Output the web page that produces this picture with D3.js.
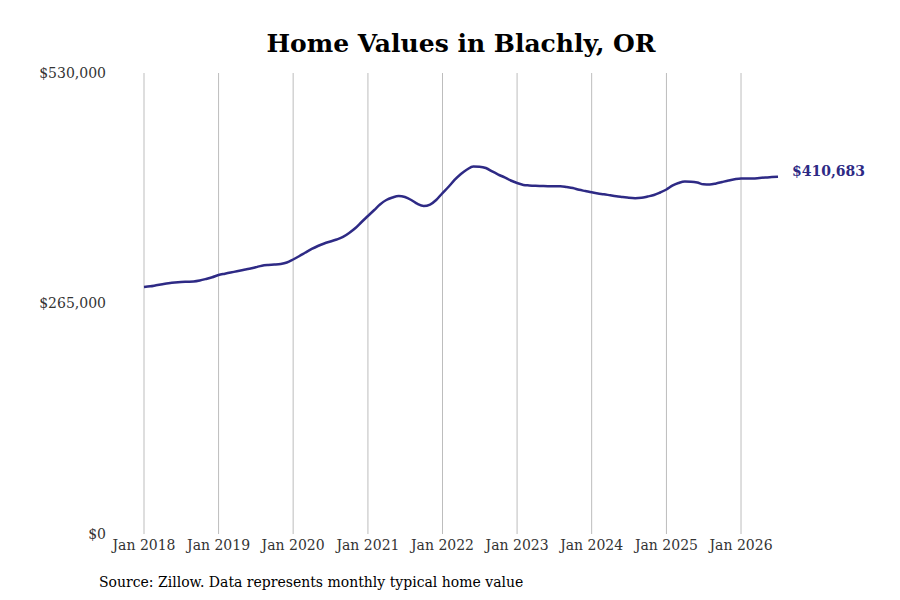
<!DOCTYPE html>
<html>
<head>
<meta charset="utf-8">
<script src="https://cdn.jsdelivr.net/npm/d3@7"></script>
<style>
  body { margin: 0; background: #fff; }
  svg { display: block; font-family: "DejaVu Serif", serif; }
</style>
</head>
<body>
<svg id="chart" width="900" height="600"></svg>
<script>
// monthly typical home value, Jan 2018 - Jul 2026 (thousands of dollars)
let values2018 = [ 284.0, 284.8, 285.9, 287.1, 288.2, 289.1, 289.7, 290.0, 290.3, 291.4, 293.2, 295.2 ];
let values2019 = [ 297.8, 299.3, 300.6, 302.1, 303.5, 304.9, 306.6, 308.5, 309.3, 309.7, 310.4, 312.1 ];
let values2020 = [ 315.6, 319.6, 323.6, 327.7, 331.1, 334.0, 336.3, 338.6, 341.5, 346.1, 351.8, 358.7 ];
let values2021 = [ 365.6, 372.5, 378.8, 384.0, 386.9, 388.6, 387.4, 384.0, 379.4, 377.1, 378.8, 384.0 ];
let values2022 = [ 392.0, 399.5, 407.0, 413.9, 419.1, 422.5, 422.3, 420.8, 416.8, 413.3, 409.9, 406.4 ];
let values2023 = [ 403.5, 401.3, 400.7, 400.3, 400.1, 399.9, 399.8, 399.8, 398.9, 397.8, 395.7, 394.3 ];
let values2024 = [ 392.8, 391.5, 390.6, 389.4, 388.3, 387.4, 386.5, 386.1, 386.5, 388.0, 389.7, 392.6 ];
let values2025 = [ 396.1, 400.7, 403.5, 405.3, 405.1, 404.1, 402.0, 401.8, 403.0, 404.7, 406.4, 407.8 ];
let values2026 = [ 408.7, 408.6, 408.7, 409.3, 409.9, 410.3, 410.683 ];

let yearTicks = [ 2018, 2019, 2020, 2021, 2022, 2023, 2024, 2025, 2026 ];
let valueTicks = [ 0, 265000, 530000 ];
let lastLabel = "$410,683";

let allValues = [].concat( values2018, values2019, values2020, values2021, values2022,
    values2023, values2024, values2025, values2026 );
let data = allValues.map( function ( v, i ) {
    return { date: new Date( 2018, i, 1 ), value: v * 1000 };
} );

let svg = d3.select( "#chart" );

let x = d3.scaleTime()
    .domain( [ new Date( 2018, 0, 1 ), new Date( 2026, 6, 1 ) ] )
    .range( [ 144, 778 ] );
let y = d3.scaleLinear().domain( [ 0, 530000 ] ).range( [ 534, 73 ] );

let fmt = d3.format( "$,d" );

// vertical grid lines
svg.append( "g" ).selectAll( "line" ).data( yearTicks ).enter().append( "line" )
    .attr( "x1", function ( d ) { return x( new Date( d, 0, 1 ) ); } )
    .attr( "x2", function ( d ) { return x( new Date( d, 0, 1 ) ); } )
    .attr( "y1", y( 530000 ) )
    .attr( "y2", y( 0 ) )
    .attr( "stroke", "#bdbdbd" )
    .attr( "stroke-width", 1 );

// x tick labels
svg.append( "g" ).selectAll( "text" ).data( yearTicks ).enter().append( "text" )
    .attr( "x", function ( d ) { return x( new Date( d, 0, 1 ) ); } )
    .attr( "y", 550 )
    .attr( "text-anchor", "middle" )
    .attr( "font-size", 14 )
    .attr( "fill", "#333" )
    .text( function ( d ) { return "Jan " + d; } );

// y tick labels
svg.append( "g" ).selectAll( "text" ).data( valueTicks ).enter().append( "text" )
    .attr( "x", 106 )
    .attr( "y", function ( d ) { return y( d ); } )
    .attr( "dy", "0.35em" )
    .attr( "text-anchor", "end" )
    .attr( "font-size", 14 )
    .attr( "fill", "#333" )
    .text( function ( d ) { return fmt( d ); } );

let line = d3.line()
    .x( function ( d ) { return x( d.date ); } )
    .y( function ( d ) { return y( d.value ); } )
    .curve( d3.curveMonotoneX );

svg.append( "path" ).datum( data )
    .attr( "d", line )
    .attr( "fill", "none" )
    .attr( "stroke", "#2e2a85" )
    .attr( "stroke-width", 2.5 );

let last = data[ data.length - 1 ];
svg.append( "text" )
    .attr( "x", x( last.date ) + 14 )
    .attr( "y", y( last.value ) - 6 )
    .attr( "dy", "0.35em" )
    .attr( "font-size", 14 )
    .attr( "font-weight", "bold" )
    .attr( "fill", "#2e2a85" )
    .text( lastLabel );

svg.append( "text" )
    .attr( "x", 461 )
    .attr( "y", 52 )
    .attr( "text-anchor", "middle" )
    .attr( "font-size", 25 )
    .attr( "font-weight", "bold" )
    .attr( "fill", "#000" )
    .text( "Home Values in Blachly, OR" );

svg.append( "text" )
    .attr( "x", 99 )
    .attr( "y", 587 )
    .attr( "font-size", 14 )
    .attr( "fill", "#000" )
    .text( "Source: Zillow. Data represents monthly typical home value" );
</script>
</body>
</html>
